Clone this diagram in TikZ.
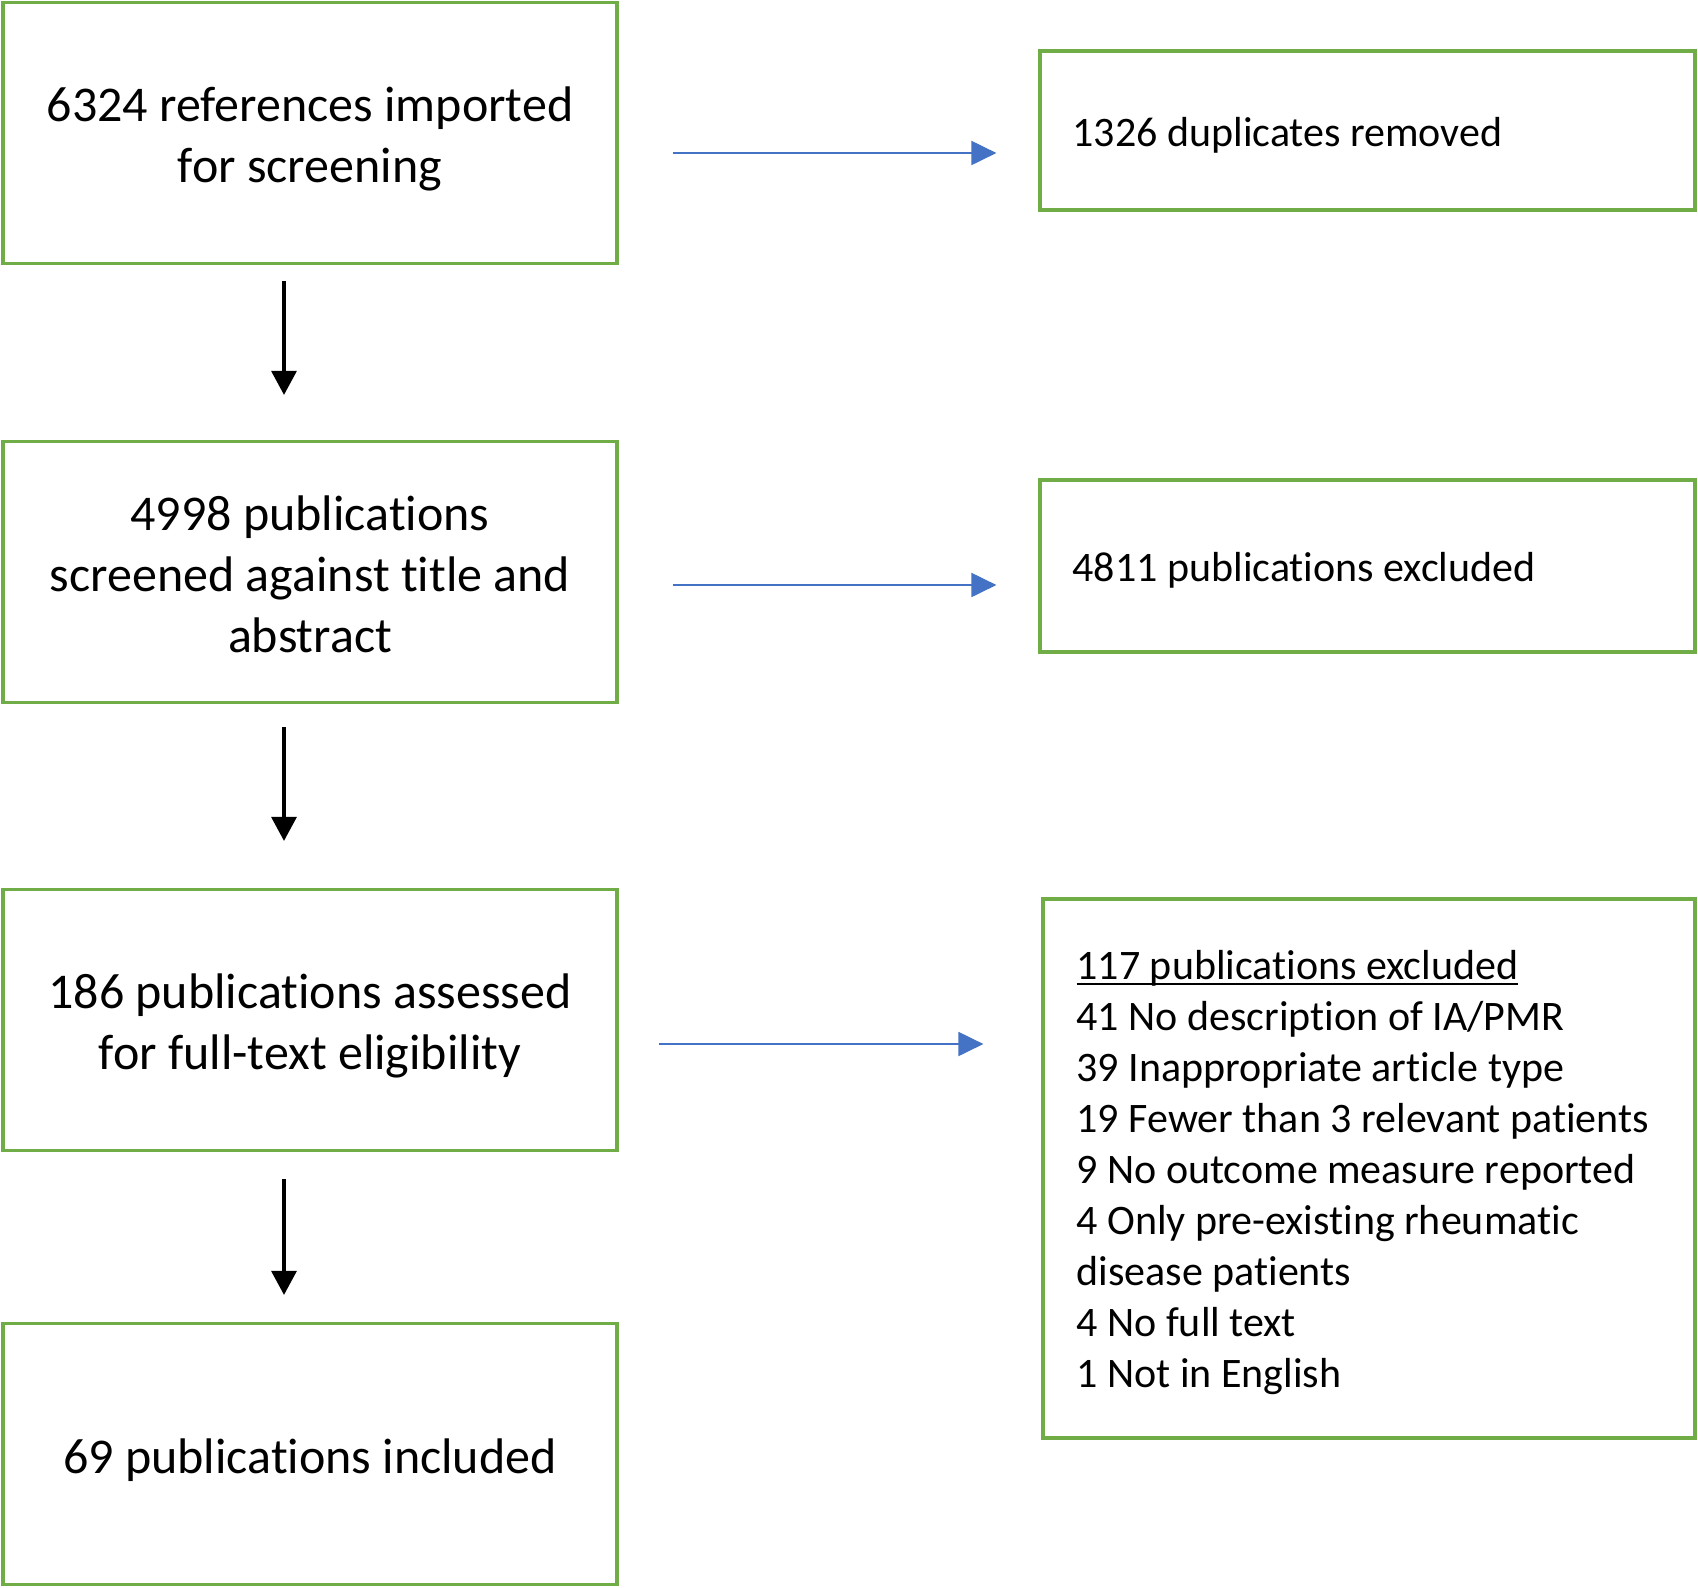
\documentclass[tikz,border=0pt]{standalone}
\usepackage{fontspec}
\setmainfont{Carlito}[Ligatures={NoCommon}]
\usetikzlibrary{arrows.meta}
\definecolor{boxgreen}{HTML}{70AD47}
\definecolor{arrowblue}{HTML}{4472C4}
\newcommand\myul[1]{\setbox0\hbox{#1}\rlap{\rule[-6pt]{\wd0}{2.6pt}}\box0}
\tikzset{
  leftbox/.style={draw=boxgreen, line width=3.2pt, minimum width=614pt, minimum height=261pt, inner sep=0pt},
  lefttext/.style={align=center, font=\fontsize{50}{61}\selectfont, inner sep=0pt},
  rightbox/.style={draw=boxgreen, line width=3.2pt, minimum width=652pt, inner sep=0pt},
  righttext/.style={align=flush left, font=\fontsize{42}{51}\selectfont, inner sep=0pt, anchor=west},
  downarrow/.style={draw=black, line width=3.2pt, -{Triangle[length=24pt,width=25pt]}},
  sidearrow/.style={draw=arrowblue, line width=2pt, -{Triangle[length=25pt,width=24pt]}},
}
\begin{document}
\begin{tikzpicture}[x=1pt,y=-1pt]
\useasboundingbox (0,0) rectangle (1698,1588);
% left boxes
\node[leftbox] (b1) at (310,133) {};
\node[leftbox] (b3) at (310,572) {};
\node[leftbox] (b5) at (310,1020) {};
\node[leftbox] (b7) at (310,1454) {};
\node[lefttext] (t1) at ([yshift=-6pt]b1.center) {6324 references imported\\for screening};
\node[lefttext] (t3) at ([yshift=-2pt]b3.center) {4998 publications\\screened against title and\\abstract};
\node[lefttext] (t5) at ([yshift=-6pt]b5.center) {186 publications assessed\\for full-text eligibility};
\node[lefttext] (t7) at ([yshift=-6pt]b7.center) {69 publications included};
% right boxes
\node[rightbox, minimum width=655pt, minimum height=159pt] (b2) at (1367.5,130.5) {};
\node[rightbox, minimum width=655pt, minimum height=172pt] (b4) at (1367.5,566) {};
\node[rightbox, minimum width=652pt, minimum height=539pt] (b6) at (1369,1168.5) {};
\node[righttext] (t2) at ([xshift=34pt,yshift=-5pt]b2.west) {1326 duplicates removed};
\node[righttext] (t4) at ([xshift=34pt,yshift=-4pt]b4.west) {4811 publications excluded};
\node[righttext] (t6) at ([xshift=35pt,yshift=-4pt]b6.west) {\myul{117 publications excluded}\\
41 No description of IA/PMR\\
39 Inappropriate article type\\
19 Fewer than 3 relevant patients\\
9 No outcome measure reported\\
4 Only pre-existing rheumatic\\
disease patients\\
4 No full text\\
1 Not in English};
% black down arrows
\draw[downarrow] ([xshift=-26pt,yshift=-16pt]b1.south) -- ([xshift=-26pt,yshift=45pt]b3.north);
\draw[downarrow] ([xshift=-26pt,yshift=-23pt]b3.south) -- ([xshift=-26pt,yshift=47pt]b5.north);
\draw[downarrow] ([xshift=-26pt,yshift=-27pt]b5.south) -- ([xshift=-26pt,yshift=27pt]b7.north);
% blue side arrows
\coordinate (s1) at ([xshift=54pt,yshift=-20pt]b1.east);
\coordinate (e1) at ([xshift=-42pt]b2.west);
\draw[sidearrow] (s1) -- (s1 -| e1);
\coordinate (s2) at ([xshift=54pt,yshift=-13pt]b3.east);
\coordinate (e2) at ([xshift=-42pt]b4.west);
\draw[sidearrow] (s2) -- (s2 -| e2);
\coordinate (s3) at ([xshift=40pt,yshift=-24pt]b5.east);
\coordinate (e3) at ([xshift=-58pt]b6.west);
\draw[sidearrow] (s3) -- (s3 -| e3);
\end{tikzpicture}
\end{document}
